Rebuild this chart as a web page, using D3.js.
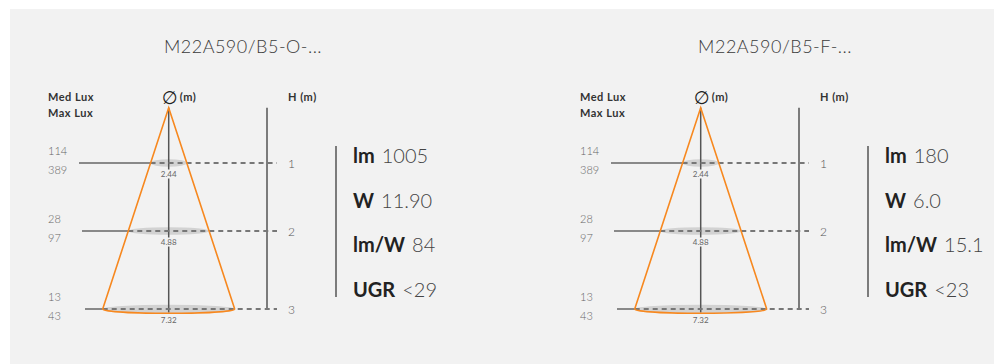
<!DOCTYPE html>
<html><head><meta charset="utf-8">
<script src="https://cdn.jsdelivr.net/npm/d3@7"></script>
<style>
html,body{margin:0;padding:0;background:#fff;}
svg{display:block;font-family:Lato,"Open Sans",sans-serif;}
</style></head>
<body>
<svg id="chart" width="994" height="364"></svg>
<script>
// ---- data ----
const titles = ["M22A590/B5-O-...", "M22A590/B5-F-..."];
const heights = [1, 2, 3];
const diameters = ["2.44", "4.88", "7.32"];
const medLux = [[114, 28, 13], [114, 28, 13]];
const maxLux = [[389, 97, 43], [389, 97, 43]];
const statLabels = ["lm", "W", "lm/W", "UGR"];
const statValues = [["1005", "11.90", "84", "<29"], ["180", "6.0", "15.1", "<23"]];

// ---- drawing ----
const svg = d3.select("#chart");
svg.append("rect").attr("x", 10).attr("y", 9).attr("width", 984).attr("height", 355).attr("fill", "#f2f2f2");

const bg = "#f2f2f2";
const y = d3.scaleLinear().domain([0, 1, 2, 3]).range([107.7, 163, 231, 309]);
const apexX = 168.7;
const half = d3.scaleLinear().domain([0, y(3) - y(0)]).range([0, 66]);
const lineStart = d3.scaleLinear().domain([1, 3]).range([79, 85]);
const panelX = d3.scalePoint().domain(titles).range([0, 532]);

titles.forEach((t, p) => {
  const g = svg.append("g").attr("transform", `translate(${panelX(t)},0)`);
  g.append("text").attr("x", 243).attr("y", 53).attr("text-anchor", "middle")
    .attr("font-size", 18).attr("letter-spacing", 0.5).attr("font-weight", 300).attr("fill", "#3a3a3a").text(t);

  // headers
  const hdr = (x, yy, s) => g.append("text").attr("x", x).attr("y", yy).attr("font-size", 11)
    .attr("letter-spacing", 0.5).attr("font-weight", 700).attr("fill", "#333").text(s);
  hdr(48, 101, "Med Lux");
  hdr(48, 117, "Max Lux");
  hdr(288, 101, "H (m)");
  const dia = g.append("text").attr("x", 162).attr("y", 104).attr("font-size", 18)
    .attr("font-family", "DejaVu Sans").attr("fill", "#222").text("\u2205");
  const bb = dia.node().getBBox();
  hdr(Math.max(178, bb.x + bb.width + 2), 101, "(m)");

  // H axis line
  g.append("line").attr("x1", 267).attr("x2", 267).attr("y1", y(0)).attr("y2", y(3))
    .attr("stroke", "#555").attr("stroke-width", 1.5);

  // ellipses
  heights.forEach((h) => {
    const hw = half(y(h) - y(0));
    g.append("ellipse").attr("cx", apexX).attr("cy", y(h)).attr("rx", hw).attr("ry", h === 3 ? 4.3 : 3.8)
      .attr("fill", "#d2d2d2");
  });

  // center line
  g.append("line").attr("x1", apexX).attr("x2", apexX).attr("y1", y(0)).attr("y2", y(3) + 3.5)
    .attr("stroke", "#555").attr("stroke-width", 1.5);

  // level lines
  heights.forEach((h) => {
    const hw = half(y(h) - y(0));
    g.append("line").attr("x1", lineStart(h)).attr("x2", apexX - hw).attr("y1", y(h)).attr("y2", y(h))
      .attr("stroke", "#666").attr("stroke-width", 1.5);
    g.append("line").attr("x1", apexX - hw).attr("x2", 277).attr("y1", y(h)).attr("y2", y(h))
      .attr("stroke", "#777").attr("stroke-width", 2).attr("stroke-dasharray", "5,4");
    g.append("text").attr("x", 288).attr("y", y(h) + 4.5).attr("font-size", 12).attr("font-weight", 300)
      .attr("fill", "#555").text(h);
  });

  // cone
  const hw3 = half(y(3) - y(0));
  const cone = d3.path();
  cone.moveTo(apexX - hw3, y(3));
  cone.lineTo(apexX, y(0));
  cone.lineTo(apexX + hw3, y(3));
  g.append("path").attr("d", cone.toString()).attr("fill", "none").attr("stroke", "#f7881f").attr("stroke-width", 1.6).attr("stroke-linejoin", "miter");
  g.append("path").attr("d", `M${apexX - hw3},${y(3)} A${hw3},4.3 0 0 0 ${apexX + hw3},${y(3)}`)
    .attr("fill", "none").attr("stroke", "#f7881f").attr("stroke-width", 1.6);

  // diameter labels
  heights.forEach((h, i) => {
    const ly = y(h) + 14;
    g.append("rect").attr("x", apexX - 9).attr("y", ly - 7.5).attr("width", 18).attr("height", 9).attr("fill", bg);
    g.append("text").attr("x", apexX).attr("y", ly).attr("text-anchor", "middle").attr("font-size", 8)
      .attr("fill", "#666").text(diameters[i]);
  });

  // lux labels
  heights.forEach((h, i) => {
    g.append("text").attr("x", 48).attr("y", y(h) - 8).attr("font-size", 11).attr("font-weight", 300).attr("fill", "#666").text(medLux[p][i]);
    g.append("text").attr("x", 48).attr("y", y(h) + 11).attr("font-size", 11).attr("font-weight", 300).attr("fill", "#666").text(maxLux[p][i]);
  });

  // stats
  const sy = d3.scalePoint().domain(statLabels).range([163, 297]);
  g.append("line").attr("x1", 336).attr("x2", 336).attr("y1", 146).attr("y2", 297)
    .attr("stroke", "#555").attr("stroke-width", 1.5);
  statLabels.forEach((l, i) => {
    const tx = g.append("text").attr("x", 353).attr("y", sy(l)).attr("font-size", 20).attr("fill", "#222");
    tx.append("tspan").attr("font-weight", 700).text(l);
    tx.append("tspan").attr("font-weight", 300).attr("fill", "#444").attr("dx", 7).text(statValues[p][i]);
  });
});
</script>
</body></html>
